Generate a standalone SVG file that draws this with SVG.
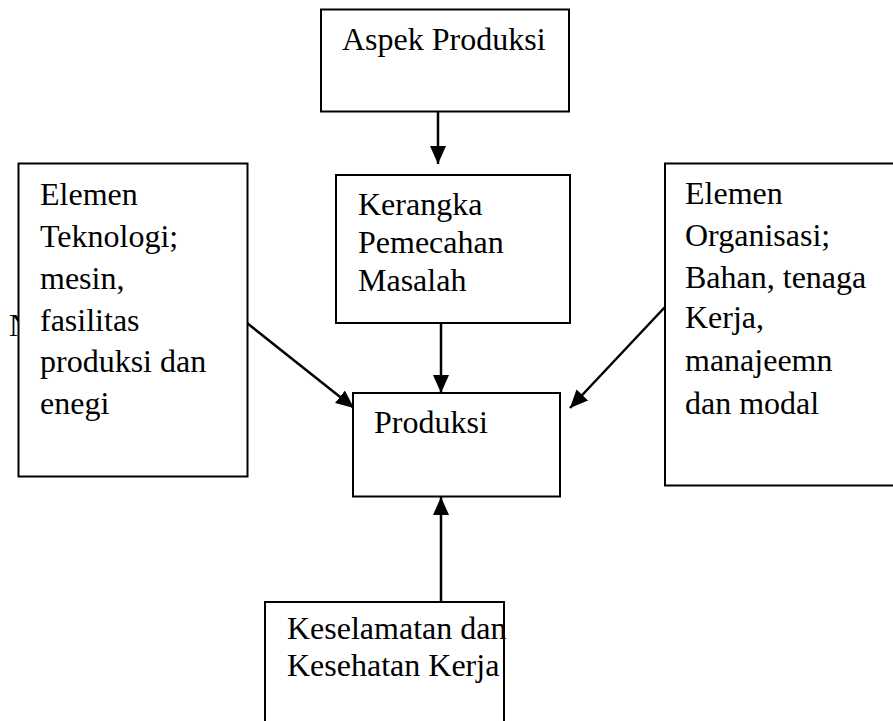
<svg xmlns="http://www.w3.org/2000/svg" width="893" height="721" viewBox="0 0 893 721">
<defs>
<style>
.box{fill:#fff;stroke:#000;stroke-width:2}
.t{font-family:"Liberation Serif","Times New Roman",serif;font-size:32px;fill:#000}
.c{stroke:#000;stroke-width:2.5;fill:none;marker-end:url(#ah)}
</style>
<marker id="ah" markerUnits="userSpaceOnUse" markerWidth="18" markerHeight="16" viewBox="0 0 18 16" refX="18" refY="8" orient="auto">
<path d="M0,0 L18,8 L0,16 Z" fill="#000"/>
</marker>
</defs>
<rect width="893" height="721" fill="#fff"/>
<text class="t" x="9" y="336">N</text>
<g id="connectors">
<line class="c" x1="438" y1="112" x2="438" y2="164"/>
<line class="c" x1="441" y1="323" x2="441" y2="393"/>
<line class="c" x1="441" y1="602" x2="441" y2="497"/>
<line class="c" x1="247" y1="323" x2="354" y2="408"/>
<line class="c" x1="665" y1="307" x2="570" y2="408"/>
</g>
<g id="aspek">
<rect class="box" x="321" y="9.5" width="248" height="102"/>
<text class="t" x="342" y="50">Aspek Produksi</text>
</g>
<g id="kerangka">
<rect class="box" x="336" y="175" width="234" height="148"/>
<text class="t" x="358" y="215">Kerangka</text>
<text class="t" x="358" y="253">Pemecahan</text>
<text class="t" x="358" y="291">Masalah</text>
</g>
<g id="produksi">
<rect class="box" x="353" y="393" width="207" height="103.5"/>
<text class="t" x="374" y="433">Produksi</text>
</g>
<g id="teknologi">
<rect class="box" x="18.5" y="163.5" width="229" height="313"/>
<text class="t" x="40" y="205">Elemen</text>
<text class="t" x="40" y="247">Teknologi;</text>
<text class="t" x="40" y="289">mesin,</text>
<text class="t" x="40" y="331">fasilitas</text>
<text class="t" x="40" y="372">produksi dan</text>
<text class="t" x="40" y="414">enegi</text>
</g>
<g id="organisasi">
<rect class="box" x="665" y="163.5" width="240" height="322"/>
<text class="t" x="685" y="204">Elemen</text>
<text class="t" x="685" y="246">Organisasi;</text>
<text class="t" x="685" y="288">Bahan, tenaga</text>
<text class="t" x="685" y="328">Kerja,</text>
<text class="t" x="685" y="371">manajeemn</text>
<text class="t" x="685" y="414">dan modal</text>
</g>
<g id="k3">
<rect class="box" x="265" y="602" width="239" height="130"/>
<text class="t" x="287" y="639">Keselamatan dan</text>
<text class="t" x="287" y="676">Kesehatan Kerja</text>
</g>
</svg>
